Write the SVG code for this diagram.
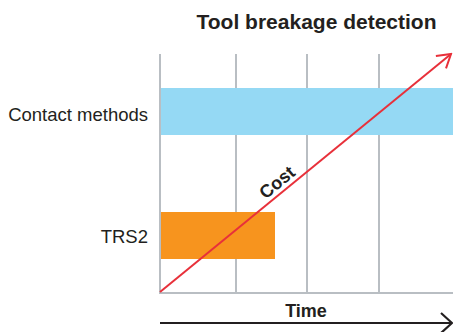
<svg xmlns="http://www.w3.org/2000/svg" width="453" height="332" viewBox="0 0 453 332">
<style>
.grid{stroke:#b9bec3;stroke-width:2;fill:none}
.lbl{font-family:"Liberation Sans",Arial,sans-serif;font-size:18.5px;fill:#231f20}
.bold{font-family:"Liberation Sans",Arial,sans-serif;font-weight:bold;fill:#231f20}
</style>
<defs>
<marker id="openRed" markerWidth="16" markerHeight="20" refX="14" refY="10" orient="auto" markerUnits="userSpaceOnUse">
<path d="M1,2 L14,10 L1,18" fill="none" stroke="#e8303a" stroke-width="2"/>
</marker>
<marker id="openDark" markerWidth="16" markerHeight="24" refX="13" refY="12" orient="auto" markerUnits="userSpaceOnUse">
<path d="M2,2 L13,12 L2,22" fill="none" stroke="#231f20" stroke-width="2.2"/>
</marker>
</defs>
<text class="bold" x="316.5" y="29" font-size="21" text-anchor="middle">Tool breakage detection</text>
<g id="grid">
<line class="grid" x1="160" y1="54" x2="160" y2="294"/>
<line class="grid" x1="236" y1="54" x2="236" y2="294"/>
<line class="grid" x1="307" y1="54" x2="307" y2="294"/>
<line class="grid" x1="379" y1="54" x2="379" y2="294"/>
<line class="grid" x1="159" y1="293" x2="453" y2="293"/>
</g>
<g id="contact-methods">
<rect x="161" y="88" width="292" height="47" fill="#95d9f4"/>
<text class="lbl" x="148" y="121" text-anchor="end">Contact methods</text>
</g>
<g id="trs2">
<rect x="161" y="212" width="114" height="47" fill="#f7941e"/>
<text class="lbl" x="148" y="243" text-anchor="end">TRS2</text>
</g>
<g id="connectors">
<line x1="160" y1="292" x2="451" y2="54" stroke="#e8303a" stroke-width="2" marker-end="url(#openRed)"/>
<line x1="160" y1="323" x2="452" y2="323" stroke="#231f20" stroke-width="2.2" marker-end="url(#openDark)"/>
</g>
<text class="bold" font-size="18" transform="translate(281,187) rotate(-39.3)" text-anchor="middle">Cost</text>
<text class="bold" font-size="18" x="306" y="317" text-anchor="middle">Time</text>
</svg>
